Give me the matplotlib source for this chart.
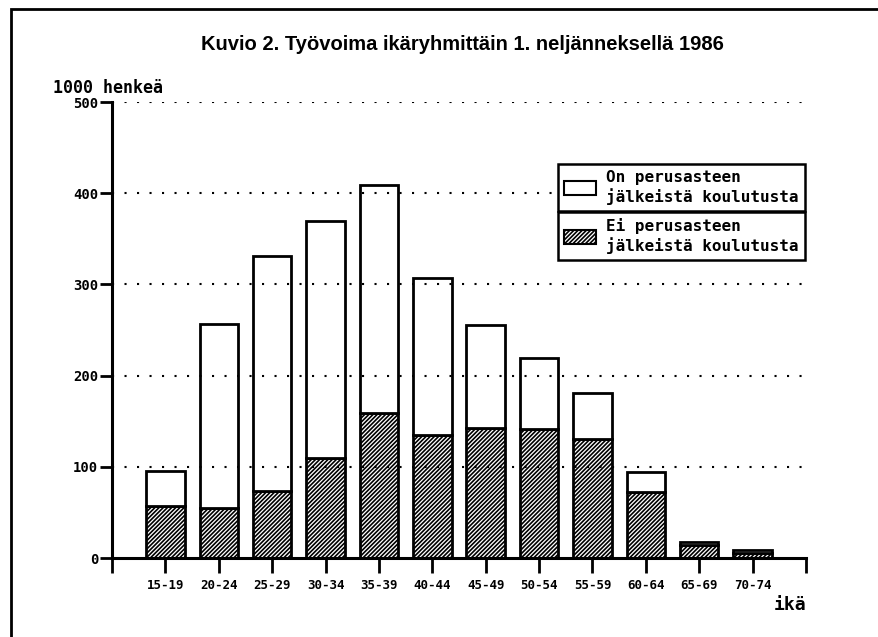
import matplotlib
matplotlib.use("Agg")
import matplotlib.pyplot as plt
from matplotlib.patches import Patch, Rectangle
import numpy as np

# ikäryhmät ja arvot (1000 henkeä), luettu kuvasta
ika = ["15-19", "20-24", "25-29", "30-34", "35-39", "40-44",
       "45-49", "50-54", "55-59", "60-64", "65-69", "70-74"]
ei_koulutusta = [57, 55, 73, 110, 159, 135, 143, 141, 130, 72, 14, 6]
on_koulutusta = [38, 202, 258, 259, 250, 172, 113, 78, 51, 22, 4, 3]
y_ticks = [0, 100, 200, 300, 400, 500]

plt.rcParams['hatch.linewidth'] = 1.2
mono = ['DejaVu Sans Mono']
HATCH = '////////'

fig = plt.figure(figsize=(8.79, 6.37), dpi=100)
ax = fig.add_axes([112 / 879, 1 - 558 / 637, (806 - 112) / 879, (558 - 102) / 637])

x = np.arange(1, len(ika) + 1)
ax.bar(x, ei_koulutusta, width=0.72, color='white', edgecolor='black',
       linewidth=2, hatch=HATCH, zorder=2)
ax.bar(x, on_koulutusta, width=0.72, bottom=ei_koulutusta, color='white',
       edgecolor='black', linewidth=2, zorder=2)

ax.set_xlim(0, 13)
ax.set_ylim(0, 500)
ax.set_xticks(range(14))
ax.set_xticklabels([''] + ika + [''], family=mono, fontweight='bold', fontsize=9)
ax.set_yticks(y_ticks)
ax.set_yticklabels([str(v) for v in y_ticks], family=mono, fontweight='bold', fontsize=10)
ax.tick_params(axis='x', length=11, width=2, pad=4)
ax.tick_params(axis='y', length=9, width=2, pad=1)
for s in ['top', 'right']:
    ax.spines[s].set_visible(False)
for s in ['left', 'bottom']:
    ax.spines[s].set_linewidth(2.2)
    ax.spines[s].set_zorder(4)
ax.yaxis.grid(True, linestyle=(0, (1, 5)), color='black', linewidth=1.5)
ax.set_axisbelow(False)
for gl in ax.yaxis.get_gridlines():
    gl.set_zorder(3)
ax.yaxis.get_gridlines()[0].set_visible(False)

# legenda kahtena laatikkona
h1 = [Patch(facecolor='white', edgecolor='black', linewidth=1.5)]
h2 = [Patch(facecolor='white', edgecolor='black', linewidth=1.5, hatch=HATCH)]
common = dict(prop={'family': mono, 'weight': 'bold', 'size': 11.5},
              frameon=True, fancybox=False, framealpha=1, handlelength=2.0,
              handleheight=1.0, borderpad=0.4, handletextpad=0.6,
              borderaxespad=0, loc='upper left', labelspacing=0.2,
              bbox_transform=fig.transFigure)
leg1 = ax.legend(h1, ["On perusasteen\njälkeistä koulutusta"],
                 bbox_to_anchor=(558 / 879, 1 - 164 / 637), **common)
leg1.get_frame().set_edgecolor('black')
leg1.get_frame().set_linewidth(1.8)
leg1.set_zorder(5)
ax.add_artist(leg1)
leg2 = ax.legend(h2, ["Ei perusasteen\njälkeistä koulutusta"],
                 bbox_to_anchor=(558 / 879, 1 - 212 / 637), **common)
leg2.get_frame().set_edgecolor('black')
leg2.get_frame().set_linewidth(1.8)
leg2.set_zorder(5)

fig.text(462 / 879, 1 - 45 / 637,
         "Kuvio 2. Työvoima ikäryhmittäin 1. neljänneksellä 1986",
         ha='center', va='center', fontsize=14.5, fontweight='bold',
         family=['Liberation Sans', 'DejaVu Sans'])
fig.text(53 / 879, 1 - 88 / 637, "1000 henkeä", ha='left', va='center',
         fontsize=12, fontweight='bold', family=mono)
fig.text(806 / 879, 1 - 605 / 637, "ikä", ha='right', va='center',
         fontsize=13, fontweight='bold', family=mono)

# kehys
fig.add_artist(Rectangle((11 / 879, -0.05), 1.0, 1 - 9 / 637 + 0.05,
                         transform=fig.transFigure, fill=False,
                         edgecolor='black', linewidth=2))

fig.savefig("out.png", dpi=100)
